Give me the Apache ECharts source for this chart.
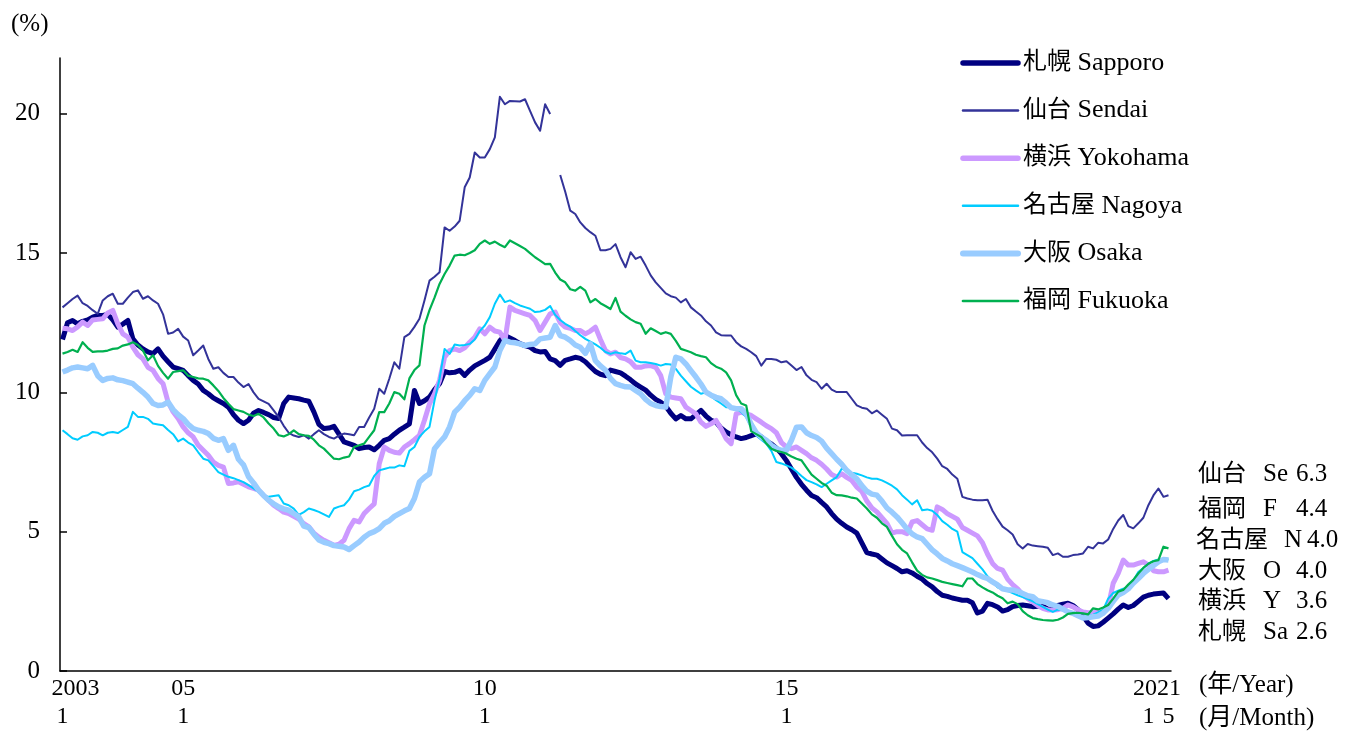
<!DOCTYPE html>
<html><head><meta charset="utf-8">
<script src="https://cdn.jsdelivr.net/npm/echarts@6/dist/echarts.min.js"></script>
<style>html,body{margin:0;padding:0;background:#fff}#c{width:1348px;height:731px}</style>
</head><body><div id="c"></div>
<script>
const startYear = 2003, endYear = 2021, endMonth = 5;
const categories = [];
for (let y = startYear; y <= endYear; y++) for (let m = 1; m <= 12; m++) { if (y === endYear && m > endMonth) break; categories.push(y + '/' + m); }

const seriesNames = ['札幌 Sapporo','仙台 Sendai','横浜 Yokohama','名古屋 Nagoya','大阪 Osaka','福岡 Fukuoka'];
const shortNames = { '札幌 Sapporo':['札幌','Sa'], '仙台 Sendai':['仙台','Se'], '横浜 Yokohama':['横浜','Y'], '名古屋 Nagoya':['名古屋','N'], '大阪 Osaka':['大阪','O'], '福岡 Fukuoka':['福岡','F'] };

const sapporo = [11.9,12.5,12.58,12.46,12.55,12.6,12.7,12.76,12.76,12.8,12.6,12.34,12.45,12.58,11.92,11.7,11.56,11.45,11.39,11.56,11.3,11.1,10.91,10.85,10.79,10.6,10.43,10.3,10.07,9.95,9.8,9.7,9.6,9.47,9.2,9.0,8.88,9.0,9.25,9.35,9.28,9.2,9.1,9.06,9.6,9.83,9.8,9.77,9.72,9.68,9.3,8.85,8.7,8.72,8.78,8.5,8.22,8.16,8.1,7.98,8.02,8.04,7.94,8.1,8.28,8.34,8.5,8.64,8.75,8.87,10.07,9.6,9.7,9.83,10.1,10.31,10.75,10.7,10.72,10.79,10.61,10.8,10.95,11.05,11.15,11.26,11.55,11.85,12.04,11.95,11.86,11.75,11.68,11.62,11.5,11.45,11.47,11.2,11.14,10.97,11.15,11.2,11.26,11.22,11.1,10.92,10.75,10.65,10.6,10.8,10.75,10.7,10.58,10.45,10.3,10.19,10.08,9.9,9.75,9.65,9.5,9.25,9.05,9.17,9.05,9.05,9.2,9.35,9.15,9.0,8.93,8.72,8.58,8.48,8.4,8.34,8.38,8.45,8.51,8.4,8.25,8.15,8.0,7.8,7.55,7.25,6.95,6.7,6.49,6.3,6.22,6.05,5.89,5.65,5.45,5.3,5.17,5.07,4.95,4.6,4.25,4.2,4.16,4.02,3.88,3.78,3.68,3.56,3.6,3.52,3.4,3.3,3.14,3.02,2.85,2.72,2.68,2.62,2.58,2.54,2.54,2.45,2.08,2.15,2.43,2.38,2.3,2.15,2.2,2.31,2.35,2.37,2.34,2.31,2.32,2.33,2.22,2.22,2.35,2.4,2.43,2.35,2.2,1.98,1.72,1.6,1.62,1.75,1.9,2.05,2.22,2.37,2.28,2.35,2.5,2.65,2.72,2.76,2.78,2.8,2.6];

const sendai = [13.05,13.2,13.35,13.47,13.2,13.1,12.95,12.82,13.3,13.45,13.54,13.18,13.18,13.4,13.6,13.66,13.36,13.45,13.3,13.18,12.8,12.1,12.15,12.28,12.0,11.86,11.33,11.5,11.68,11.2,10.85,10.9,10.7,10.55,10.55,10.35,10.19,10.3,10.0,9.77,9.68,9.59,9.35,9.11,8.8,8.55,8.45,8.4,8.46,8.34,8.5,8.64,8.5,8.4,8.34,8.45,8.52,8.5,8.46,8.76,8.76,9.1,9.41,10.13,9.95,10.49,11.08,10.85,11.98,12.1,12.35,12.64,13.3,14.01,14.15,14.31,15.92,15.8,15.95,16.16,17.36,17.71,18.61,18.43,18.43,18.73,19.15,20.61,20.34,20.46,20.45,20.44,20.52,20.1,19.69,19.39,20.34,19.99,null,17.8,17.2,16.52,16.4,16.1,15.9,15.75,15.62,15.1,15.1,15.15,15.32,14.85,14.49,15.03,14.79,14.87,14.55,14.2,13.95,13.75,13.55,13.45,13.4,13.23,13.35,13.05,12.9,12.76,12.55,12.4,12.15,12.05,12.04,12.04,11.8,11.65,11.56,11.44,11.3,10.96,11.2,11.2,11.17,11.08,11.12,10.96,10.8,10.91,10.61,10.45,10.37,10.13,10.31,10.1,10.01,10.01,10.01,9.77,9.53,9.45,9.41,9.25,9.35,9.2,9.05,8.7,8.64,8.45,8.46,8.46,8.46,8.2,8.0,7.85,7.62,7.35,7.25,7.05,6.9,6.25,6.19,6.15,6.13,6.13,6.15,5.75,5.45,5.18,5.05,4.9,4.55,4.4,4.56,4.5,4.48,4.46,4.42,4.16,4.22,4.1,4.1,4.16,4.18,4.22,4.46,4.4,4.6,4.58,4.72,5.1,5.4,5.6,5.2,5.12,5.3,5.5,5.95,6.3,6.55,6.25,6.31];

const yokohama = [12.3,12.28,12.22,12.35,12.52,12.4,12.6,12.62,12.64,12.85,12.94,12.46,12.1,11.98,11.62,11.35,11.2,10.9,10.79,10.5,10.31,9.65,9.3,9.06,8.76,8.55,8.4,8.1,7.92,7.74,7.5,7.38,7.32,6.73,6.75,6.79,6.7,6.61,6.55,6.49,6.3,6.13,5.95,5.83,5.7,5.65,5.55,5.45,5.29,5.17,4.95,4.8,4.69,4.6,4.51,4.55,4.69,5.11,5.41,5.35,5.65,5.83,6.0,7.44,8.04,7.92,7.85,7.82,8.04,8.16,8.3,8.46,9.0,9.59,9.95,10.43,11.26,11.5,11.56,11.5,11.6,11.8,11.98,12.28,12.1,12.34,12.2,12.16,11.86,13.06,12.94,12.88,12.82,12.76,12.58,12.22,12.52,12.82,12.88,12.5,12.34,12.3,12.22,12.22,12.1,12.2,12.34,11.9,11.5,11.38,11.44,11.25,11.2,11.1,10.9,10.9,10.95,10.96,10.9,10.6,9.95,9.83,9.8,9.77,9.47,9.35,9.23,8.93,8.78,8.87,8.99,8.69,8.34,8.16,9.23,9.29,9.23,9.17,9.05,8.93,8.8,8.7,8.55,8.2,8.04,7.98,8.04,7.92,7.8,7.65,7.56,7.42,7.25,7.05,6.96,7.08,6.95,6.84,6.6,6.45,6.1,5.85,5.71,5.5,5.3,4.95,5.0,5.0,4.93,5.35,5.4,5.25,5.1,5.05,5.89,5.8,5.65,5.55,5.45,5.15,5.05,4.95,4.85,4.6,4.2,3.86,3.68,3.62,3.3,3.1,2.95,2.73,2.6,2.48,2.35,2.25,2.19,2.19,2.2,2.25,2.37,2.3,2.2,2.12,2.09,2.1,2.12,2.07,2.3,3.15,3.5,3.98,3.8,3.8,3.86,3.92,3.8,3.6,3.56,3.56,3.62];

const nagoya = [8.64,8.5,8.35,8.3,8.42,8.46,8.58,8.55,8.46,8.55,8.58,8.54,8.65,8.76,9.3,9.12,9.12,9.05,8.88,8.85,8.82,8.65,8.5,8.24,8.34,8.2,8.1,7.85,7.62,7.56,7.35,7.14,7.05,6.97,6.92,6.85,6.78,6.67,6.55,6.43,6.3,6.25,6.28,6.31,6.01,5.95,5.83,5.6,5.7,5.83,5.78,5.71,5.62,5.53,5.83,5.9,5.95,6.15,6.45,6.51,6.6,6.66,7.0,7.2,7.25,7.3,7.3,7.38,7.35,7.9,8.04,8.4,8.6,8.76,9.71,10.49,11.56,11.38,11.72,11.68,11.7,11.74,11.9,12.2,12.4,12.7,13.18,13.51,13.24,13.3,13.2,13.12,13.06,13.0,12.88,12.9,12.96,13.1,12.78,12.6,12.46,12.36,12.2,12.05,11.92,11.82,11.72,11.6,11.45,11.38,11.44,11.4,11.38,11.5,11.14,11.08,11.08,11.05,11.02,10.96,11.02,11.0,10.84,10.6,10.4,10.2,10.07,9.95,10.0,9.85,9.72,9.6,9.47,9.47,9.42,9.3,9.11,8.75,8.45,8.3,8.16,7.9,7.5,7.45,7.38,7.3,7.16,7.0,6.85,6.78,6.7,6.6,6.72,6.84,6.96,7.26,7.18,7.12,7.08,7.02,6.95,6.9,6.9,6.84,6.75,6.65,6.52,6.31,6.15,5.98,6.13,5.77,5.8,5.75,5.6,5.38,5.25,5.1,5.0,4.27,4.16,4.05,3.85,3.65,3.4,3.2,3.0,2.92,2.88,2.8,2.72,2.65,2.58,2.5,2.4,2.3,2.2,2.12,2.2,2.18,2.1,2.05,2.0,1.95,1.98,2.02,2.1,2.2,2.6,2.8,2.88,2.95,3.0,3.25,3.55,3.7,3.85,3.95,4.0,4.02,4.0];

const osaka = [10.73,10.8,10.88,10.91,10.88,10.85,10.97,10.6,10.43,10.5,10.52,10.45,10.42,10.37,10.31,10.15,10.0,9.83,9.6,9.53,9.55,9.65,9.38,9.2,9.06,8.85,8.7,8.64,8.6,8.52,8.35,8.28,8.34,7.92,8.1,7.6,7.4,6.97,6.75,6.49,6.3,6.13,6.0,5.89,5.82,5.77,5.65,5.53,5.2,5.15,4.91,4.7,4.62,4.57,4.5,4.48,4.45,4.36,4.5,4.63,4.8,4.93,5.0,5.11,5.3,5.39,5.55,5.65,5.75,5.83,6.19,6.78,6.95,7.08,7.98,8.2,8.4,8.76,9.29,9.47,9.7,9.89,10.13,10.07,10.43,10.67,10.91,11.5,11.86,11.8,11.78,11.74,11.68,11.72,11.74,11.92,11.95,11.98,12.4,12.04,11.98,11.86,11.7,11.62,11.4,11.74,11.14,10.95,10.8,10.5,10.31,10.25,10.2,10.19,10.07,9.95,9.75,9.6,9.53,9.49,9.47,10.55,11.26,11.2,11.02,10.78,10.55,10.3,10.01,9.9,9.82,9.77,9.62,9.45,9.41,9.41,9.23,8.85,8.55,8.4,8.28,8.1,7.98,7.92,7.92,8.28,8.75,8.76,8.55,8.45,8.38,8.25,8.0,7.8,7.6,7.42,7.2,7.05,6.9,6.65,6.45,6.35,6.31,6.1,5.85,5.7,5.53,5.32,5.1,4.92,4.81,4.75,4.55,4.35,4.2,4.04,3.95,3.85,3.78,3.71,3.63,3.55,3.46,3.38,3.32,3.2,3.09,2.95,2.91,2.91,2.86,2.78,2.7,2.67,2.52,2.49,2.45,2.37,2.32,2.22,2.12,2.07,1.98,1.9,1.92,1.95,1.97,2.08,2.25,2.5,2.73,2.82,2.95,3.15,3.32,3.5,3.65,3.78,3.92,4.0,3.98];

const fukuoka = [11.39,11.45,11.53,11.45,11.8,11.6,11.45,11.47,11.47,11.5,11.56,11.58,11.68,11.72,11.8,11.7,11.5,11.15,11.33,10.95,10.7,10.49,10.73,10.76,10.79,10.6,10.55,10.5,10.49,10.43,10.25,10.05,9.8,9.59,9.4,9.35,9.3,9.2,9.15,9.23,9.1,8.88,8.7,8.46,8.42,8.5,8.64,8.5,8.46,8.44,8.3,8.1,7.98,7.8,7.62,7.6,7.66,7.7,8.04,8.1,8.16,8.4,8.64,9.29,9.29,9.6,10.01,9.95,9.75,10.5,10.8,10.97,12.4,12.95,13.4,13.89,14.25,14.55,14.91,14.94,14.92,15.0,15.1,15.33,15.45,15.33,15.41,15.3,15.21,15.45,15.35,15.25,15.15,15.0,14.85,14.73,14.6,14.61,14.3,14.05,13.95,13.7,13.65,13.79,13.65,13.23,13.35,13.2,13.1,12.99,13.39,12.9,12.75,12.62,12.52,12.46,12.1,12.3,12.2,12.1,12.16,12.1,11.85,11.56,11.5,11.44,11.35,11.3,11.26,11.05,10.92,10.85,10.72,10.43,9.9,9.6,9.53,8.6,8.5,8.4,8.16,7.98,7.9,7.86,7.8,7.7,7.62,7.56,7.3,7.05,6.9,6.75,6.65,6.4,6.31,6.3,6.27,6.22,6.19,6.01,5.83,5.62,5.5,5.3,5.17,4.85,4.55,4.35,4.22,3.9,3.6,3.45,3.36,3.32,3.26,3.2,3.16,3.12,3.08,3.04,3.32,3.32,3.12,3.0,2.9,2.82,2.7,2.61,2.43,2.49,2.4,2.15,2.0,1.9,1.86,1.83,1.82,1.81,1.84,1.92,2.05,2.08,2.09,2.07,2.03,2.25,2.21,2.28,2.37,2.6,2.85,2.91,3.1,3.27,3.5,3.7,3.85,3.94,3.98,4.46,4.4];

const yTicks = [0, 5, 10, 15, 20];
const xTickLabels = { 0: '{y|2003}\n1', 24: '05\n1', 84: '10\n1', 144: '15\n1', 216: ' \n1', 220: ' \n5' };
const lastYearLabel = '2021';
const endLabelOrder = ['仙台 Sendai','福岡 Fukuoka','名古屋 Nagoya','大阪 Osaka','横浜 Yokohama','札幌 Sapporo'];

const seriesData = [sapporo, sendai, yokohama, nagoya, osaka, fukuoka];
const colors = ['#000080','#333399','#CC99FF','#00CCFF','#99CCFF','#00B050'];
const widths = [5, 2, 5, 2, 5.5, 2.2];

const FONT = "'Liberation Serif','Noto Sans CJK JP',serif";
const CJK = "'Noto Sans CJK JP',sans-serif";
const chart = echarts.init(document.getElementById('c'), null, { renderer: 'canvas' });

const series = seriesNames.map((n, k) => ({
  name: n, type: 'line', data: seriesData[k], symbol: 'none', connectNulls: false,
  lineStyle: { color: colors[k], width: widths[k], join: 'round' },
  itemStyle: { color: colors[k] }, z: 2 + k, animation: false
}));

const endGraphics = endLabelOrder.map((n, k) => {
  const idx = seriesNames.indexOf(n);
  const arr = seriesData[idx];
  const v = arr[arr.length - 1].toFixed(1);
  const sn = shortNames[n];
  const nameW = sn[0].length === 3 ? 88 : 65;
  const letW = sn[0].length === 3 ? 23 : 33;
  const ys = [477, 512, 543, 574, 604, 635];
  return { type: 'text', left: sn[0].length === 3 ? 1196 : 1198, top: ys[k] - 15, style: {
    text: '{a|' + sn[0] + '}{b|' + sn[1] + '}{c|' + v + '}',
    rich: { a: { width: nameW, fontSize: 24, fontFamily: FONT, fill: '#000' }, b: { width: letW, fontSize: 25, fontFamily: FONT, fill: '#000' }, c: { fontSize: 25, fontFamily: FONT, fill: '#000' } },
    fill: '#000' } };
});

chart.setOption({
  animation: false,
  backgroundColor: '#fff',
  color: colors,
  grid: { left: 60, right: 177, top: 58, bottom: 60, containLabel: false },
  legend: {
    orient: 'vertical', left: 955, top: 44, itemWidth: 55, itemHeight: 14, itemGap: 19.6,
    data: seriesNames.map((n, k) => ({ name: n, lineStyle: { width: widths[k] + 0.5, cap: 'round' }, itemStyle: { opacity: 0 } })),
    formatter: (name) => { const p = name.split(' '); return '{c|' + p[0] + '} {l|' + p[1] + '}'; },
    textStyle: { fontSize: 26, fontFamily: FONT, color: '#000', lineHeight: 28,
      rich: { c: { fontSize: 24, fontFamily: FONT, color: '#000', lineHeight: 28 }, l: { fontSize: 26, fontFamily: FONT, color: '#000', lineHeight: 28 } } },
    selectedMode: false
  },
  xAxis: {
    type: 'category', data: categories, boundaryGap: true,
    axisLine: { lineStyle: { color: '#000', width: 1.5 } },
    axisTick: { inside: true, length: 7, lineStyle: { color: '#000', width: 1.5 }, interval: (i) => i % 12 === 0 },
    axisLabel: {
      interval: (i) => xTickLabels[i] !== undefined,
      formatter: (v, i) => xTickLabels[i] || '',
      showMinLabel: true, showMaxLabel: true,
      fontSize: 24, fontFamily: FONT, color: '#000', lineHeight: 28, margin: 4,
      rich: { y: { fontSize: 24, fontFamily: FONT, color: '#000', padding: [0, 0, 0, 26], lineHeight: 28 } }
    },
    splitLine: { show: false }
  },
  yAxis: {
    type: 'value', min: 0, max: 22, interval: 5,
    axisLine: { show: true, lineStyle: { color: '#000', width: 1.5 } },
    axisTick: { show: true, inside: true, length: 7, lineStyle: { color: '#000', width: 1.5 }, customValues: yTicks },
    axisLabel: { fontSize: 25, fontFamily: FONT, color: '#000', margin: 20, customValues: yTicks },
    splitLine: { show: false }
  },
  graphic: [
    { type: 'text', left: 11, top: 12, style: { text: '(%)', fontSize: 25, fontFamily: FONT, fill: '#000' } },
    { type: 'text', x: 1157, y: 689, style: { text: lastYearLabel, fontSize: 24, fontFamily: FONT, fill: '#000', textAlign: 'center', textVerticalAlign: 'middle' } },
    { type: 'text', left: 1199, top: 673, style: { text: '(年/Year)', fontSize: 25, fontFamily: FONT, fill: '#000' } },
    { type: 'text', left: 1199, top: 706, style: { text: '(月/Month)', fontSize: 25, fontFamily: FONT, fill: '#000' } }
  ].concat(endGraphics),
  series: series
});
</script></body></html>
